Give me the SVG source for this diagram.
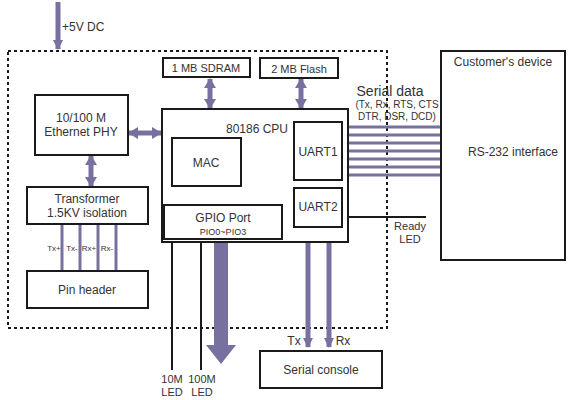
<svg xmlns="http://www.w3.org/2000/svg" width="568" height="400" viewBox="0 0 568 400">
<style>
.box{fill:#fff;stroke:#1a1a1a;stroke-width:2}
.t{font-family:"Liberation Sans",Arial,sans-serif;font-size:12px;fill:#333;text-anchor:middle}
.s{font-family:"Liberation Sans",Arial,sans-serif;font-size:9px;fill:#333;text-anchor:middle}
.p{stroke:#76719f;fill:none}
.k{stroke:#1a1a1a;stroke-width:2;fill:none}
</style>
<defs>
<marker id="ah" markerUnits="userSpaceOnUse" markerWidth="12" markerHeight="12" refX="9" refY="6" orient="auto-start-reverse">
<path d="M0,0 L10,6 L0,12 Z" fill="#76719f"/>
</marker>
<marker id="ahs" markerUnits="userSpaceOnUse" markerWidth="10" markerHeight="10" refX="9" refY="5" orient="auto">
<path d="M0,0 L10,5 L0,10 Z" fill="#76719f"/>
</marker>
</defs>
<rect width="568" height="400" fill="#fff"/>
<rect x="8" y="51" width="379" height="277" fill="none" stroke="#1a1a1a" stroke-width="2" stroke-dasharray="3,3"/>
<g id="connectors">
<line class="p" x1="58" y1="2" x2="58" y2="49" stroke-width="5" marker-end="url(#ahs)"/>
<line class="p" x1="210" y1="79" x2="210" y2="108" stroke-width="5" marker-start="url(#ah)" marker-end="url(#ah)"/>
<line class="p" x1="301" y1="79" x2="301" y2="108" stroke-width="5" marker-start="url(#ah)" marker-end="url(#ah)"/>
<line class="p" x1="129" y1="133" x2="161" y2="133" stroke-width="5" marker-start="url(#ah)" marker-end="url(#ah)"/>
<line class="p" x1="91" y1="156" x2="91" y2="186" stroke-width="5" marker-start="url(#ah)" marker-end="url(#ah)"/>
<g class="p" stroke-width="3">
<line x1="62" y1="224" x2="62" y2="271"/><line x1="80" y1="224" x2="80" y2="271"/>
<line x1="98" y1="224" x2="98" y2="271"/><line x1="116" y1="224" x2="116" y2="271"/>
<line x1="342" y1="127" x2="464" y2="127"/><line x1="342" y1="135" x2="464" y2="135"/>
<line x1="342" y1="143" x2="464" y2="143"/><line x1="342" y1="151" x2="464" y2="151"/>
<line x1="342" y1="159" x2="464" y2="159"/><line x1="342" y1="167" x2="464" y2="167"/>
<line x1="342" y1="175" x2="464" y2="175"/>
</g>
<line class="k" x1="172" y1="242" x2="172" y2="370"/>
<line class="k" x1="201" y1="242" x2="201" y2="370"/>
<line class="k" x1="348" y1="217" x2="426" y2="217"/>
<path d="M214,240 L228,240 L228,345 L236,345 L221,364 L206,345 L214,345 Z" fill="#76719f"/>
<line class="p" x1="308" y1="228" x2="308" y2="347" stroke-width="5" marker-end="url(#ahs)"/>
<line class="p" x1="329" y1="228" x2="329" y2="347" stroke-width="5" marker-end="url(#ahs)"/>
</g>
<text class="t" x="62" y="31" style="text-anchor:start">+5V DC</text>
<g id="phy"><rect class="box" x="35" y="95" width="93" height="60"/>
<text class="t" x="81" y="122">10/100 M</text><text class="t" x="81" y="136">Ethernet PHY</text></g>
<g id="transformer"><rect class="box" x="27" y="187" width="121" height="37"/>
<text class="t" x="87" y="203">Transformer</text><text class="t" x="87" y="217">1.5KV isolation</text></g>
<g id="pinheader"><rect class="box" x="27" y="271" width="121" height="37"/>
<text class="t" x="87" y="294">Pin header</text></g>
<g id="pinlabels">
<text class="s" x="54" y="251" style="font-size:8px">Tx+</text><text class="s" x="72" y="251" style="font-size:8px">Tx-</text>
<text class="s" x="89" y="251" style="font-size:8px">Rx+</text><text class="s" x="107" y="251" style="font-size:8px">Rx-</text>
</g>
<g id="sdram"><rect class="box" x="163" y="58" width="87" height="19"/>
<text class="t" x="206" y="72" style="font-size:11px">1 MB SDRAM</text></g>
<g id="flash"><rect class="box" x="260" y="58" width="78" height="20"/>
<text class="t" x="299" y="73" style="font-size:11px">2 MB Flash</text></g>
<g id="cpu"><rect class="box" x="162" y="109" width="186" height="133"/>
<text class="t" x="257" y="133">80186 CPU</text></g>
<g id="mac"><rect class="box" x="172" y="138" width="69" height="48"/>
<text class="t" x="206" y="167">MAC</text></g>
<g id="uart1"><rect class="box" x="294" y="122" width="48" height="58"/>
<text class="t" x="318" y="156">UART1</text></g>
<g id="uart2"><rect class="box" x="294" y="188" width="48" height="39"/>
<text class="t" x="318" y="211">UART2</text></g>
<g id="gpio"><rect class="box" x="164" y="205" width="118" height="34"/>
<text class="t" x="223" y="222">GPIO Port</text><text class="s" x="223" y="235">PIO0~PIO3</text></g>
<g id="console"><rect class="box" x="260" y="351" width="122" height="37"/>
<text class="t" x="321" y="374">Serial console</text></g>
<g id="customer"><rect class="box" x="441" y="51" width="124" height="209"/>
<text class="t" x="503" y="66">Customer's device</text>
<text class="t" x="513" y="156">RS-232 interface</text></g>
<text class="t" x="294" y="345">Tx</text><text class="t" x="343" y="345">Rx</text>
<text class="t" x="172" y="383" style="font-size:11px">10M</text><text class="t" x="172" y="396" style="font-size:11px">LED</text>
<text class="t" x="202" y="383" style="font-size:11px">100M</text><text class="t" x="202" y="396" style="font-size:11px">LED</text>
<text class="t" x="410" y="230" style="font-size:11px">Ready</text><text class="t" x="410" y="243" style="font-size:11px">LED</text>
<text class="t" x="390" y="96" style="font-size:14px">Serial data</text>
<text class="t" x="397" y="108" style="font-size:10px">(Tx, Rx, RTS, CTS</text>
<text class="t" x="397" y="120" style="font-size:10px">DTR, DSR, DCD)</text>
</svg>
